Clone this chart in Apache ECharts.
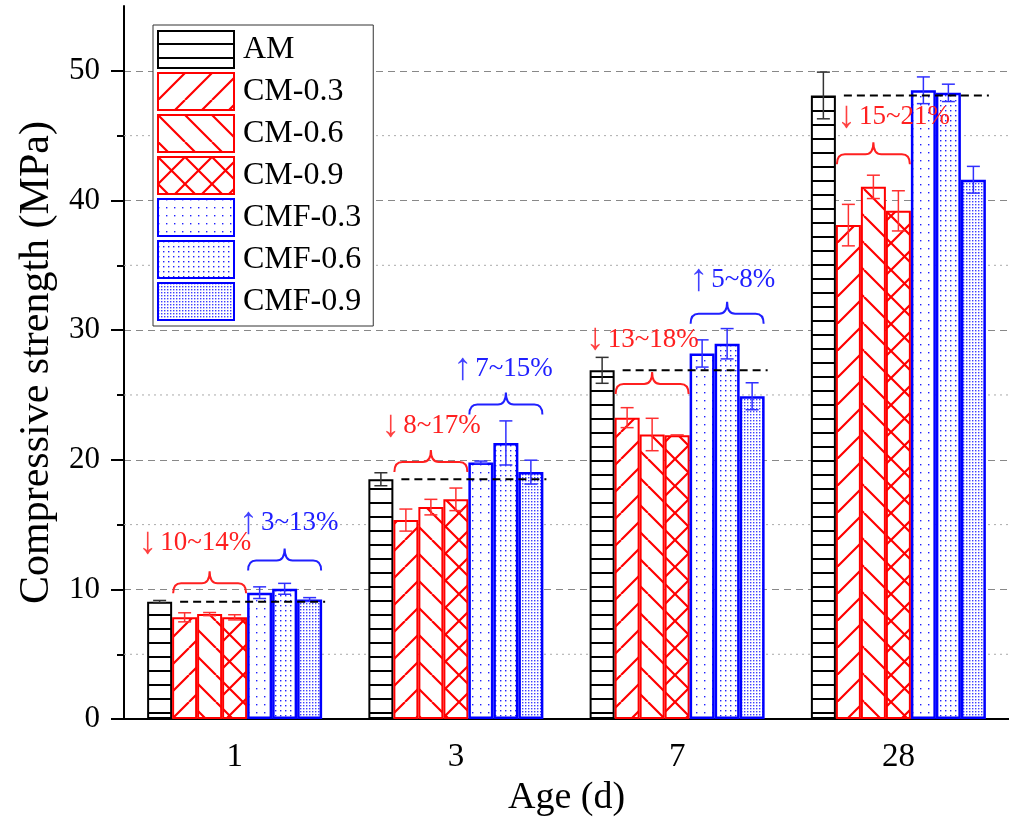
<!DOCTYPE html>
<html>
<head>
<meta charset="utf-8">
<script src="https://cdn.jsdelivr.net/npm/echarts@6/dist/echarts.min.js"></script>
<style>
  html, body { margin: 0; padding: 0; background: #fff; overflow: hidden; }
  #chart { width: 1009px; height: 822px; }
</style>
</head>
<body>
<div id="chart"></div>
<script>
// ---- data ----
var ages = ['1', '3', '7', '28'];
var names = ['AM', 'CM-0.3', 'CM-0.6', 'CM-0.9', 'CMF-0.3', 'CMF-0.6', 'CMF-0.9'];

var amVals   = [9.05, 18.5, 26.9, 48.1];
var cm03Vals = [7.85, 15.35, 23.25, 38.1];
var cm06Vals = [8.1, 16.35, 21.95, 41.05];
var cm09Vals = [7.85, 16.95, 21.9, 39.2];
var cmf03Vals = [9.75, 19.8, 28.2, 48.5];
var cmf06Vals = [10.05, 21.3, 28.95, 48.3];
var cmf09Vals = [9.22, 19.05, 24.9, 41.6];

var amErr   = [0.1, 0.5, 1.0, 1.8];
var cm03Err = [0.35, 0.85, 0.77, 1.6];
var cm06Err = [0.12, 0.6, 1.25, 0.9];
var cm09Err = [0.2, 0.87, 0, 1.55];
var cmf03Err = [0.45, 0.1, 1.05, 1.03];
var cmf06Err = [0.42, 1.7, 1.17, 0.67];
var cmf09Err = [0.15, 0.92, 1.04, 1.03];

var majorTicks = [0, 10, 20, 30, 40, 50];
var minorTicks = [5, 15, 25, 35, 45];

// change annotations: category, group (0 = CM, 1 = CMF), brace level, text level, text
var annCat   = [0, 0, 1, 1, 2, 2, 3];
var annGroup = [0, 1, 0, 1, 0, 1, 0];
var annBrace = [9.71, 11.47, 19.06, 23.5, 25.08, 30.5, 42.8];
var annLevel = [13.6, 15.14, 22.58, 26.99, 29.28, 33.87, 46.45];
var annText  = ['10~14%', '3~13%', '8~17%', '7~15%', '13~18%', '5~8%', '15~21%'];

var allVals = [amVals, cm03Vals, cm06Vals, cm09Vals, cmf03Vals, cmf06Vals, cmf09Vals];
var allErr = [amErr, cm03Err, cm06Err, cm09Err, cmf03Err, cmf06Err, cmf09Err];

// ---- look ----
var BAR_W = 25;
var SERIF = 'Liberation Serif';
var RED = '#ff0000', BLUE = '#0000ff';
var annShift = [-15, 4, 0, -3, -10, 5, 20];

function makePattern(kind, color) {
    var cv = document.createElement('canvas');
    var ctx, s, k;
    if (kind === 'h') {
        cv.width = 8; cv.height = 14;
        ctx = cv.getContext('2d');
        ctx.fillStyle = '#fff'; ctx.fillRect(0, 0, 8, 14);
        ctx.fillStyle = color; ctx.fillRect(0, 12, 8, 2);
    } else if (kind === 'fwd' || kind === 'back' || kind === 'cross') {
        s = 27;
        cv.width = s; cv.height = s;
        ctx = cv.getContext('2d');
        ctx.fillStyle = '#fff'; ctx.fillRect(0, 0, s, s);
        ctx.strokeStyle = color; ctx.lineWidth = 2.2;
        ctx.beginPath();
        for (k = -1; k <= 1; k++) {
            if (kind !== 'back') { ctx.moveTo(k * s, s); ctx.lineTo(k * s + s, 0); }
            if (kind !== 'fwd') { ctx.moveTo(k * s, 0); ctx.lineTo(k * s + s, s); }
        }
        ctx.stroke();
    } else {
        // dots: kind is tile size
        s = kind;
        cv.width = s; cv.height = s;
        ctx = cv.getContext('2d');
        ctx.fillStyle = '#fff'; ctx.fillRect(0, 0, s, s);
        ctx.fillStyle = color; ctx.fillRect(0, 0, 1.4, 1.4);
    }
    return { image: cv, repeat: 'repeat' };
}

var fills = [
    makePattern('h', '#000'),
    makePattern('fwd', RED),
    makePattern('back', RED),
    makePattern('cross', RED),
    makePattern(8, '#2020ff'),
    makePattern(5, '#2020ff'),
    makePattern(3, '#4040ff')
];
var borders = ['#000', RED, RED, RED, BLUE, BLUE, BLUE];
var borderW = [2, 2, 2, 2, 2.5, 2.5, 2.5];
var errColors = ['#333', '#ff3030', '#ff3030', '#ff3030', '#3030ff', '#3030ff', '#3030ff'];

var barSeries = names.map(function (n, i) {
    return {
        name: n,
        type: 'bar',
        barWidth: BAR_W,
        barGap: '0%',
        data: allVals[i],
        itemStyle: { color: fills[i], borderColor: borders[i], borderWidth: borderW[i] },
        emphasis: { disabled: true },
        z: 2
    };
});

var errData = [];
allVals.forEach(function (vals, s) {
    vals.forEach(function (v, c) { errData.push([c, v, allErr[s][c], s]); });
});

var annData = annCat.map(function (c, i) { return [c, annBrace[i], annLevel[i], annGroup[i], i]; });

var chart = echarts.init(document.getElementById('chart'));
chart.setOption({
    animation: false,
    backgroundColor: '#fff',
    grid: { left: 124, right: -7, top: 6, bottom: 96 },
    legend: {
        data: names,
        orient: 'vertical',
        left: 153,
        top: 25,
        icon: 'rect',
        itemWidth: 76,
        itemHeight: 37,
        itemGap: 3,
        padding: [5, 12, 5, 4],
        backgroundColor: '#fff',
        borderColor: '#333',
        borderWidth: 1,
        selectedMode: false,
        textStyle: { fontFamily: SERIF, fontSize: 32, color: '#000', padding: [0, 0, 0, 4] }
    },
    xAxis: [{
        type: 'category',
        data: ages,
        axisLine: { lineStyle: { color: '#000', width: 2 } },
        axisTick: { alignWithLabel: true, length: 13, lineStyle: { color: '#000', width: 2 } },
        axisLabel: { fontFamily: SERIF, fontSize: 33, color: '#000', margin: 22 },
        name: 'Age (d)',
        nameLocation: 'middle',
        nameGap: 52,
        nameTextStyle: { fontFamily: SERIF, fontSize: 38, color: '#000' }
    }, {
        type: 'category',
        position: 'top',
        data: ages,
        axisLine: { lineStyle: { color: '#000', width: 2 } },
        axisTick: { show: false },
        axisLabel: { show: false }
    }],
    yAxis: [{
        type: 'value',
        min: 0,
        max: 55,
        interval: 10,
        axisLine: { show: true, lineStyle: { color: '#000', width: 2 } },
        axisTick: { show: true, length: 13, lineStyle: { color: '#000', width: 2 }, customValues: majorTicks },
        axisLabel: { fontFamily: SERIF, fontSize: 31, color: '#000', margin: 24, customValues: majorTicks },
        splitLine: { lineStyle: { color: '#888', type: [7, 5], width: 1 } },
        name: 'Compressive strength (MPa)',
        nameLocation: 'middle',
        nameGap: 64,
        nameTextStyle: { fontFamily: SERIF, fontSize: 42, color: '#000' }
    }, {
        type: 'value',
        min: 0,
        max: 55,
        interval: 5,
        position: 'left',
        axisLine: { show: false },
        axisTick: { show: true, length: 7, lineStyle: { color: '#000', width: 2 }, customValues: minorTicks },
        axisLabel: { show: false },
        splitLine: { show: false }
    }],
    series: [{
        name: 'minorGrid',
        type: 'custom',
        z: 1,
        silent: true,
        data: minorTicks.map(function (v) { return [0, v]; }),
        renderItem: function (params, api) {
            var p = api.coord([0, api.value(1)]);
            var cs = params.coordSys;
            return {
                type: 'line',
                shape: { x1: cs.x, y1: p[1], x2: cs.x + cs.width, y2: p[1] },
                style: { stroke: '#aaa', lineDash: [2, 4], lineWidth: 1 }
            };
        }
    }].concat(barSeries).concat([{
        name: 'errors',
        type: 'custom',
        z: 3,
        silent: true,
        data: errData,
        renderItem: function (params, api) {
            var c = api.value(0), v = api.value(1), e = api.value(2), s = api.value(3);
            var hi = api.coord([c, v + e]), lo = api.coord([c, v - e]);
            var x = hi[0] + (s - 3) * BAR_W;
            var st = { stroke: errColors[s], lineWidth: 1.5 };
            return {
                type: 'group',
                children: [
                    { type: 'line', shape: { x1: x, y1: hi[1], x2: x, y2: lo[1] }, style: st },
                    { type: 'line', shape: { x1: x - 6.5, y1: hi[1], x2: x + 6.5, y2: hi[1] }, style: st },
                    { type: 'line', shape: { x1: x - 6.5, y1: lo[1], x2: x + 6.5, y2: lo[1] }, style: st }
                ]
            };
        }
    }, {
        name: 'amLevel',
        type: 'custom',
        z: 4,
        silent: true,
        data: amVals.map(function (v, c) { return [c, v]; }),
        renderItem: function (params, api) {
            var p = api.coord([api.value(0), api.value(1)]);
            return {
                type: 'line',
                shape: { x1: p[0] - 2.5 * BAR_W + 8, y1: p[1], x2: p[0] + 3.5 * BAR_W + 3, y2: p[1] },
                style: { stroke: '#000', lineDash: [8, 5], lineWidth: 2 }
            };
        }
    }, {
        name: 'notes',
        type: 'custom',
        z: 4,
        silent: true,
        data: annData,
        renderItem: function (params, api) {
            var c = api.value(0), g = api.value(3), i = api.value(4);
            var base = api.coord([c, api.value(1)]);
            var txt = api.coord([c, api.value(2)]);
            var col = g === 0 ? '#ff2020' : '#2020ff';
            var x0 = base[0] + (g === 0 ? -2.5 : 0.5) * BAR_W + 1;
            var x1 = x0 + 3 * BAR_W - 2;
            var xm = (x0 + x1) / 2;
            var yb = base[1], y1 = yb - 10, yt = yb - 22;
            var d = 'M' + x0 + ' ' + yb + ' Q' + x0 + ' ' + y1 + ' ' + (x0 + 8) + ' ' + y1 +
                ' L' + (xm - 8) + ' ' + y1 + ' Q' + xm + ' ' + y1 + ' ' + xm + ' ' + yt +
                ' Q' + xm + ' ' + y1 + ' ' + (xm + 8) + ' ' + y1 +
                ' L' + (x1 - 8) + ' ' + y1 + ' Q' + x1 + ' ' + y1 + ' ' + x1 + ' ' + yb;
            return {
                type: 'group',
                children: [{
                    type: 'path',
                    shape: { pathData: d },
                    style: { fill: 'none', stroke: col, lineWidth: 2 }
                }, {
                    type: 'text',
                    style: {
                        x: xm + annShift[i],
                        y: txt[1],
                        text: '{a|' + (g === 0 ? '\u2193' : '\u2191') + '} {b|' + annText[i] + '}',
                        align: 'center',
                        verticalAlign: 'middle',
                        rich: {
                            a: { fontFamily: SERIF, fontSize: 38, fill: col, opacity: 0.85 },
                            b: { fontFamily: SERIF, fontSize: 27, fill: col }
                        }
                    }
                }]
            };
        }
    }])
});
</script>
</body>
</html>
